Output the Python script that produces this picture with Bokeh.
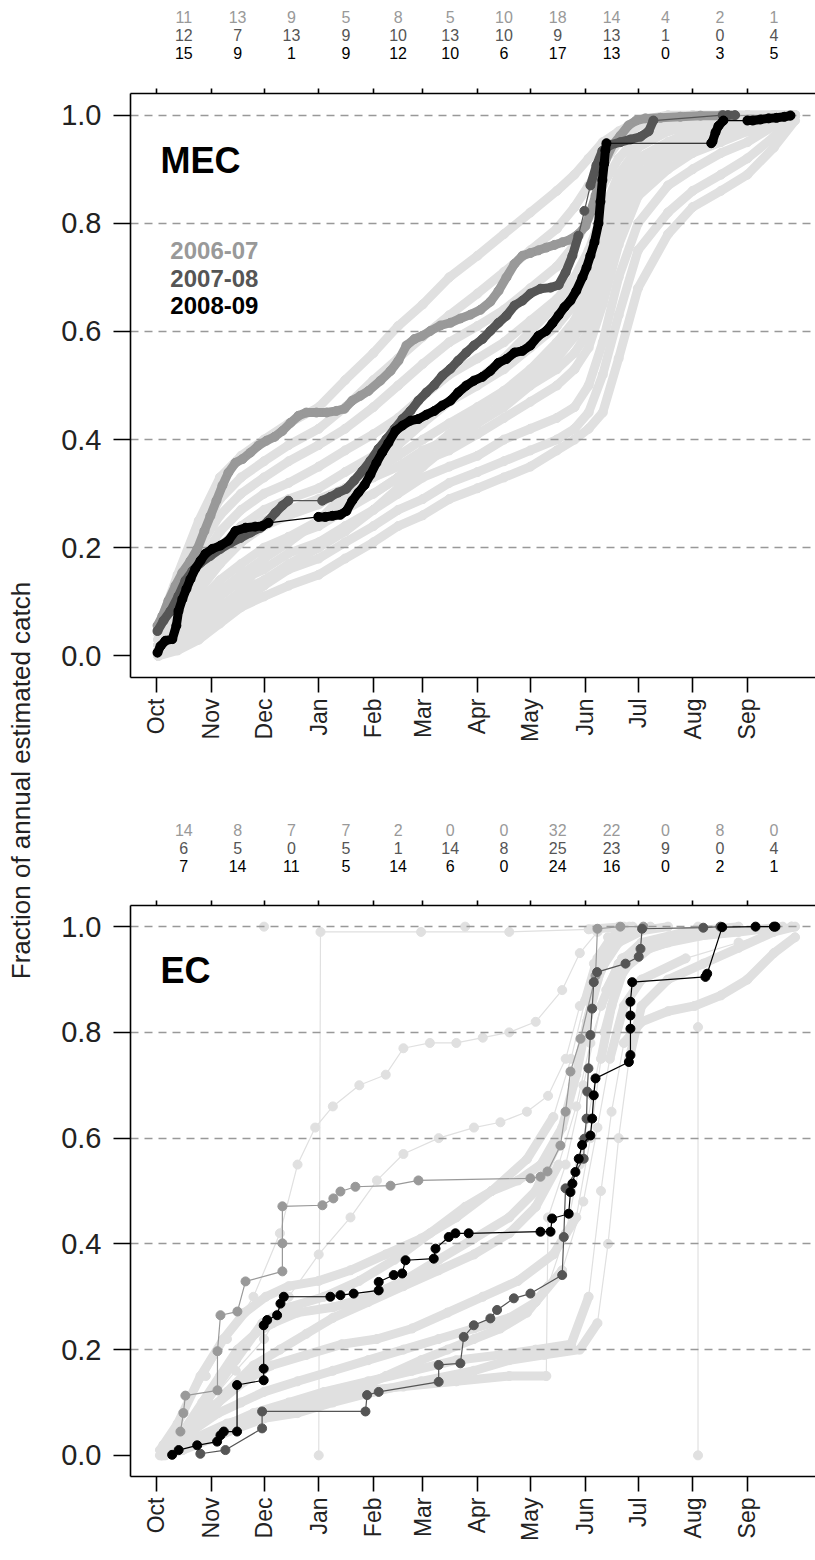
import math
from bokeh.plotting import figure
from bokeh.models import (ColumnDataSource, Range1d, FixedTicker, LinearAxis,
                          Label, PrintfTickFormatter)
from bokeh.core.properties import value
from bokeh.layouts import row, column
from bokeh.embed import file_html
from bokeh.resources import INLINE

FONT = "Liberation Sans"

# ---------------- categories / ticks ----------------
months = ["Oct", "Nov", "Dec", "Jan", "Feb", "Mar", "Apr", "May", "Jun", "Jul", "Aug", "Sep"]
month_start = [0, 31, 61, 92, 123, 151, 182, 212, 243, 273, 304, 335]   # day of season
month_len = [31, 30, 31, 31, 28, 31, 30, 31, 30, 31, 31, 30]
y_ticks = [0.0, 0.2, 0.4, 0.6, 0.8, 1.0]
seasons = ["2006-07", "2007-08", "2008-09"]
season_colors = ["#999999", "#555555", "#000000"]
BG_COLOR = "#e0e0e0"

# ---------------- monthly counts (top rows) ----------------
mec_n_0607 = [11, 13, 9, 5, 8, 5, 10, 18, 14, 4, 2, 1]
mec_n_0708 = [12, 7, 13, 9, 10, 13, 10, 9, 13, 1, 0, 4]
mec_n_0809 = [15, 9, 1, 9, 12, 10, 6, 17, 13, 0, 3, 5]
ec_n_0607 = [14, 8, 7, 7, 2, 0, 0, 32, 22, 0, 8, 0]
ec_n_0708 = [6, 5, 0, 5, 1, 14, 8, 25, 23, 9, 0, 4]
ec_n_0809 = [7, 14, 11, 5, 14, 6, 0, 24, 16, 0, 2, 1]

# ---------------- MEC highlighted seasons (day, cumulative fraction) ----------------
mec_0607_day = [0.6, 3.4, 6.8, 10.8, 14.7, 19.3, 23.2, 27.2, 30.6, 34, 37.4, 40.8, 44.8, 48.8, 53.3,
                57.8, 62.4, 66.9, 71.4, 76, 80.5, 85, 90.7, 96.4, 102, 106.6, 111, 115.6, 120.2, 127,
                132.7, 137.2, 141.7, 146.3, 150.8, 155.3, 161, 166.7, 172.3, 178, 183.7, 189.3, 193.9,
                198.4, 203, 207.5, 212, 216.6, 221, 225.6, 230.2, 234.7, 239.2, 243.2, 246, 248.9,
                251.7, 254.5, 258.5, 263, 267.6, 272, 277.2, 285.7, 297, 308.4, 319.7, 359.4]
mec_0607_frac = [0.056, 0.074, 0.102, 0.13, 0.154, 0.176, 0.198, 0.231, 0.259, 0.287, 0.315, 0.339,
                 0.357, 0.364, 0.376, 0.389, 0.398, 0.405, 0.416, 0.431, 0.444, 0.45, 0.45, 0.45,
                 0.453, 0.457, 0.472, 0.481, 0.49, 0.509, 0.527, 0.546, 0.574, 0.586, 0.592, 0.601,
                 0.611, 0.616, 0.624, 0.631, 0.64, 0.655, 0.675, 0.7, 0.725, 0.74, 0.745, 0.75,
                 0.755, 0.76, 0.765, 0.77, 0.78, 0.795, 0.82, 0.851, 0.888, 0.916, 0.944, 0.962,
                 0.981, 0.99, 0.994, 0.995, 0.997, 0.999, 0.999, 1.0]

mec_0708_day = [0.6, 4, 8, 12.5, 16.4, 20.4, 25, 30.6, 36.3, 42, 47.6, 53.3, 59, 63.5, 67.5, 71.4,
                74.8, 94, 98.6, 103, 107.7, 112, 116.8, 121.3, 125.9, 130.4, 135, 139.5, 144, 148.5,
                153, 157.6, 162, 166.7, 171, 175.7, 180, 184.8, 189.3, 193.9, 198.4, 203, 207.5, 212,
                217.7, 223.4, 228, 231.9, 235.8, 239.2, 242.6, 246, 249.4, 252.8, 257.4, 263, 268.7,
                274.4, 279, 281.7, 321, 324, 328]
mec_0708_frac = [0.046, 0.065, 0.083, 0.111, 0.139, 0.157, 0.172, 0.185, 0.198, 0.209, 0.218, 0.228,
                 0.237, 0.25, 0.265, 0.278, 0.287, 0.287, 0.294, 0.302, 0.309, 0.324, 0.342, 0.361,
                 0.383, 0.401, 0.42, 0.438, 0.453, 0.472, 0.487, 0.501, 0.518, 0.531, 0.546, 0.561,
                 0.574, 0.586, 0.601, 0.616, 0.629, 0.648, 0.657, 0.67, 0.679, 0.681, 0.686, 0.709,
                 0.74, 0.777, 0.823, 0.87, 0.907, 0.934, 0.945, 0.95, 0.955, 0.96, 0.97, 0.99,
                 1.0, 1.0, 1.0]

mec_0809_day = [0.6, 2.3, 5.1, 9, 11.3, 12.5, 14.7, 17, 19.3, 22, 25, 27.8, 31.7, 36.3, 40.8, 44.8,
                50.5, 56, 60, 63.5, 91.8, 95.8, 99.8, 104.3, 107.7, 111, 114.5, 118, 121.3, 124.7,
                128, 131.5, 135.5, 139.5, 144, 148.5, 153, 157.6, 162, 166.7, 171, 175.7, 180, 184.8,
                189.3, 193.9, 198.4, 203, 207.5, 212, 216.6, 221, 224.5, 228, 231.3, 234.7, 238,
                241.5, 243.8, 246, 248.3, 250.6, 251.7, 252.8, 253.8, 254.5, 255.1, 314.5, 315.2,
                316.9, 318.6, 321.4, 335, 338, 342.4, 347, 351.5, 356, 359.4]
mec_0809_frac = [0.006, 0.018, 0.028, 0.031, 0.056, 0.083, 0.105, 0.124, 0.142, 0.161, 0.176, 0.189,
                 0.198, 0.204, 0.213, 0.231, 0.237, 0.239, 0.24, 0.246, 0.257, 0.257, 0.259, 0.261,
                 0.268, 0.287, 0.302, 0.316, 0.335, 0.357, 0.376, 0.394, 0.416, 0.426, 0.435, 0.438,
                 0.446, 0.453, 0.463, 0.472, 0.487, 0.5, 0.509, 0.516, 0.527, 0.542, 0.549, 0.561,
                 0.564, 0.574, 0.592, 0.601, 0.615, 0.63, 0.645, 0.657, 0.675, 0.7, 0.718, 0.74,
                 0.765, 0.8, 0.84, 0.88, 0.91, 0.935, 0.948, 0.948, 0.951, 0.968, 0.98, 0.99, 0.99,
                 0.99, 0.992, 0.994, 0.995, 0.997, 0.999]

# ---------------- MEC other seasons (light grey) ----------------
mec_bg_day = [1, 12, 24, 36, 48, 61, 75, 92, 107, 123, 137, 151, 166, 182, 197, 212, 227, 237, 245,
              253, 262, 273, 290, 304, 320, 335, 350, 362]
mec_bg_frac = [
    [0.0, 0.01, 0.03, 0.06, 0.09, 0.11, 0.13, 0.15, 0.18, 0.21, 0.24, 0.26, 0.29, 0.31, 0.33, 0.35, 0.38, 0.40, 0.42, 0.45, 0.55, 0.68, 0.78, 0.83, 0.86, 0.89, 0.94, 0.99],
    [0.0, 0.02, 0.05, 0.08, 0.10, 0.13, 0.16, 0.18, 0.21, 0.24, 0.27, 0.29, 0.32, 0.34, 0.36, 0.38, 0.40, 0.42, 0.45, 0.52, 0.63, 0.75, 0.82, 0.86, 0.89, 0.92, 0.96, 1.0],
    [0.01, 0.03, 0.07, 0.11, 0.14, 0.16, 0.19, 0.21, 0.24, 0.27, 0.30, 0.33, 0.35, 0.37, 0.40, 0.42, 0.44, 0.46, 0.50, 0.58, 0.70, 0.80, 0.87, 0.90, 0.93, 0.95, 0.98, 1.0],
    [0.01, 0.05, 0.10, 0.14, 0.17, 0.20, 0.22, 0.24, 0.27, 0.30, 0.33, 0.36, 0.38, 0.41, 0.44, 0.47, 0.50, 0.53, 0.57, 0.65, 0.76, 0.85, 0.90, 0.93, 0.95, 0.97, 0.99, 1.0],
    [0.02, 0.06, 0.12, 0.17, 0.21, 0.24, 0.26, 0.28, 0.31, 0.34, 0.37, 0.40, 0.43, 0.46, 0.49, 0.52, 0.56, 0.60, 0.65, 0.72, 0.82, 0.89, 0.93, 0.95, 0.97, 0.98, 0.99, 1.0],
    [0.02, 0.08, 0.15, 0.20, 0.24, 0.27, 0.29, 0.31, 0.34, 0.37, 0.41, 0.44, 0.47, 0.50, 0.53, 0.57, 0.61, 0.65, 0.70, 0.78, 0.86, 0.92, 0.95, 0.97, 0.98, 0.99, 1.0, 1.0],
    [0.03, 0.10, 0.17, 0.23, 0.27, 0.30, 0.32, 0.35, 0.38, 0.41, 0.44, 0.48, 0.52, 0.55, 0.58, 0.62, 0.66, 0.70, 0.75, 0.82, 0.89, 0.94, 0.97, 0.98, 0.99, 1.0, 1.0, 1.0],
    [0.03, 0.11, 0.20, 0.26, 0.30, 0.33, 0.36, 0.39, 0.42, 0.46, 0.50, 0.54, 0.58, 0.61, 0.64, 0.68, 0.72, 0.76, 0.81, 0.87, 0.92, 0.96, 0.98, 0.99, 1.0, 1.0, 1.0, 1.0],
    [0.04, 0.13, 0.22, 0.29, 0.33, 0.36, 0.39, 0.42, 0.46, 0.51, 0.55, 0.59, 0.63, 0.67, 0.71, 0.75, 0.79, 0.83, 0.87, 0.91, 0.95, 0.98, 0.99, 1.0, 1.0, 1.0, 1.0, 1.0],
    [0.05, 0.15, 0.25, 0.33, 0.37, 0.40, 0.43, 0.46, 0.51, 0.56, 0.61, 0.65, 0.70, 0.74, 0.78, 0.82, 0.86, 0.89, 0.92, 0.95, 0.97, 0.99, 1.0, 1.0, 1.0, 1.0, 1.0, 1.0],
    [0.0, 0.02, 0.04, 0.07, 0.12, 0.18, 0.22, 0.25, 0.28, 0.30, 0.33, 0.37, 0.41, 0.45, 0.49, 0.53, 0.58, 0.62, 0.68, 0.76, 0.85, 0.91, 0.94, 0.96, 0.97, 0.98, 0.99, 1.0],
    [0.01, 0.04, 0.08, 0.12, 0.15, 0.18, 0.21, 0.25, 0.30, 0.35, 0.39, 0.43, 0.47, 0.51, 0.55, 0.60, 0.65, 0.69, 0.74, 0.80, 0.87, 0.92, 0.95, 0.97, 0.98, 0.99, 1.0, 1.0],
    [0.02, 0.07, 0.13, 0.18, 0.22, 0.25, 0.27, 0.29, 0.31, 0.33, 0.35, 0.38, 0.40, 0.43, 0.46, 0.50, 0.53, 0.56, 0.60, 0.68, 0.79, 0.87, 0.92, 0.94, 0.96, 0.98, 0.99, 1.0],
    [0.0, 0.03, 0.06, 0.09, 0.12, 0.14, 0.17, 0.20, 0.23, 0.27, 0.31, 0.35, 0.39, 0.43, 0.47, 0.51, 0.55, 0.59, 0.63, 0.71, 0.80, 0.88, 0.92, 0.94, 0.96, 0.97, 0.99, 1.0],
]

# ---------------- EC highlighted seasons ----------------
ec_0607_day = [13.6, 15.3, 16.4, 34.6, 34.6, 36.3, 45.9, 50.5, 71.4, 71.4, 71.4, 94.1, 100.3, 104.3,
               112.8, 132.7, 148.5, 212, 217.7, 221.7, 229, 231.9, 234.7, 240.4, 248.9, 250, 263, 276]
ec_0607_frac = [0.045, 0.08, 0.113, 0.123, 0.197, 0.265, 0.272, 0.329, 0.348, 0.401, 0.471, 0.473,
                0.486, 0.499, 0.508, 0.51, 0.52, 0.524, 0.527, 0.537, 0.586, 0.65, 0.726, 0.788,
                0.907, 0.996, 1.0, 1.0]

ec_0708_day = [24.9, 39.1, 59.9, 59.9, 118.5, 119.4, 126, 160, 160, 172.3, 174.2, 179.9, 189.3, 193.1,
               202.6, 212, 230, 230.9, 231.9, 242.2, 242.6, 243.8, 244.2, 244.9, 246, 247, 247.9,
               249.8, 265.9, 273.4, 274.4, 275.3, 310, 319.7]
ec_0708_frac = [0.003, 0.01, 0.051, 0.083, 0.083, 0.114, 0.12, 0.139, 0.171, 0.174, 0.224, 0.246,
                0.259, 0.275, 0.297, 0.306, 0.341, 0.413, 0.505, 0.561, 0.599, 0.637, 0.688, 0.732,
                0.795, 0.845, 0.895, 0.914, 0.93, 0.943, 0.958, 0.996, 0.998, 1.0]

ec_0809_day = [8.9, 12.6, 23.1, 34.4, 36.3, 38.2, 45.7, 45.7, 60.8, 60.8, 60.8, 62.8, 68.4, 70.3, 72.2,
               98.6, 104.3, 111.8, 126, 126, 134.5, 139.3, 141.2, 157.2, 158.2, 165.7, 169.5, 177,
               217.7, 223.4, 224.3, 233.7, 234.7, 235.8, 237.5, 239.4, 241.3, 246, 247, 247.9, 248.9,
               267.8, 268.7, 268.7, 268.7, 268.7, 269.7, 311.2, 312.2, 320.7, 339.6, 350, 350.9]
ec_0809_frac = [0.001, 0.01, 0.019, 0.026, 0.038, 0.045, 0.045, 0.133, 0.142, 0.164, 0.246, 0.256,
                0.265, 0.287, 0.3, 0.3, 0.303, 0.306, 0.312, 0.328, 0.341, 0.344, 0.369, 0.372, 0.391,
                0.413, 0.42, 0.42, 0.423, 0.423, 0.448, 0.457, 0.498, 0.514, 0.536, 0.561, 0.587,
                0.605, 0.637, 0.681, 0.713, 0.744, 0.757, 0.807, 0.832, 0.858, 0.895, 0.905, 0.911,
                0.999, 1.0, 1.0, 1.0]

# ---------------- EC other seasons (light grey) ----------------
ec_bg_day = [
    [3, 15, 30, 45, 61, 80, 100, 123, 150, 180, 200, 220, 240, 250, 256, 262, 268, 275, 290, 310, 330, 350, 362],
    [5, 20, 35, 50, 65, 85, 105, 125, 145, 165, 185, 205, 225, 238, 246, 252, 258, 265, 280, 300, 330, 355],
    [2, 12, 25, 38, 50, 62, 75, 92, 110, 130, 150, 170, 190, 210, 225, 235, 243, 250, 258, 270],
    [4, 15, 28, 40, 55, 70, 80, 90, 100, 115, 130, 140, 155, 170, 185, 200, 215, 230, 240, 250, 262],
    [3, 14, 30, 45, 61, 75, 92, 110, 125, 140, 160, 180, 195, 210, 222, 232, 240, 248, 256, 268],
    [5, 20, 35, 50, 70, 92, 110, 130, 150, 165, 180, 195, 210, 222, 232, 240, 247, 254, 262, 272, 290, 320, 360],
    [3, 15, 28, 40, 55, 70, 85, 100, 120, 140, 160, 180, 200, 215, 228, 238, 246, 255, 264, 280, 305, 340],
    [2, 10, 22, 35, 48, 61, 80, 100, 120, 140, 160, 180, 200, 215, 230, 242, 250, 257, 265, 275, 300, 330, 360],
    [5, 20, 40, 61, 85, 110, 140, 170, 200, 221, 222, 232, 242, 252, 262, 275, 300, 330],
    [92, 93, 150, 200, 245, 265],
    [307, 307, 307],
    [61],
    [175],
    [8, 20, 32, 45, 60, 75, 95, 115, 135, 155, 175, 190, 205, 218, 230, 238, 244, 250, 258, 270, 290],
    [4, 18, 35, 55, 75, 95, 120, 145, 170, 195, 215, 235, 245, 252, 258, 265, 275, 290, 305, 320, 335, 350, 362],
    [6, 16, 26, 36, 46, 56, 66, 80, 100, 120, 140, 160, 180, 200, 215, 226, 236, 244, 252, 262, 280],
]
ec_bg_frac = [
    [0.0, 0.01, 0.03, 0.05, 0.07, 0.08, 0.1, 0.12, 0.14, 0.16, 0.18, 0.19, 0.2, 0.25, 0.4, 0.6, 0.75, 0.85, 0.9, 0.93, 0.96, 0.99, 1.0],
    [0.01, 0.05, 0.1, 0.14, 0.17, 0.19, 0.21, 0.22, 0.24, 0.27, 0.3, 0.33, 0.38, 0.45, 0.6, 0.75, 0.85, 0.92, 0.96, 0.98, 0.99, 1.0],
    [0.01, 0.06, 0.15, 0.22, 0.27, 0.3, 0.32, 0.33, 0.35, 0.38, 0.41, 0.45, 0.5, 0.56, 0.64, 0.75, 0.86, 0.94, 0.98, 1.0],
    [0.02, 0.08, 0.15, 0.22, 0.3, 0.42, 0.55, 0.62, 0.66, 0.7, 0.72, 0.77, 0.78, 0.78, 0.79, 0.8, 0.82, 0.88, 0.95, 0.99, 1.0],
    [0.0, 0.04, 0.1, 0.16, 0.22, 0.3, 0.38, 0.45, 0.52, 0.57, 0.6, 0.62, 0.63, 0.65, 0.68, 0.75, 0.85, 0.93, 0.98, 1.0],
    [0.0, 0.02, 0.04, 0.06, 0.08, 0.1, 0.12, 0.15, 0.18, 0.2, 0.22, 0.24, 0.27, 0.32, 0.42, 0.55, 0.68, 0.8, 0.9, 0.95, 0.97, 0.99, 1.0],
    [0.01, 0.03, 0.07, 0.12, 0.17, 0.2, 0.23, 0.26, 0.29, 0.32, 0.35, 0.38, 0.42, 0.47, 0.55, 0.66, 0.78, 0.88, 0.94, 0.97, 0.99, 1.0],
    [0.0, 0.02, 0.05, 0.08, 0.1, 0.12, 0.14, 0.16, 0.18, 0.2, 0.22, 0.24, 0.26, 0.29, 0.35, 0.48, 0.62, 0.75, 0.85, 0.9, 0.94, 0.97, 1.0],
    [0.01, 0.03, 0.06, 0.08, 0.1, 0.12, 0.13, 0.14, 0.15, 0.15, 0.45, 0.55, 0.7, 0.85, 0.93, 0.97, 0.99, 1.0],
    [0.0, 0.99, 0.99, 0.99, 0.995, 1.0],
    [0.0, 0.81, 1.0],
    [1.0],
    [1.0],
    [0.02, 0.06, 0.12, 0.18, 0.25, 0.28, 0.3, 0.33, 0.37, 0.42, 0.47, 0.5, 0.52, 0.55, 0.62, 0.72, 0.82, 0.9, 0.96, 0.99, 1.0],
    [0.0, 0.02, 0.05, 0.08, 0.1, 0.12, 0.14, 0.16, 0.18, 0.19, 0.2, 0.21, 0.3, 0.5, 0.65, 0.78, 0.82, 0.84, 0.85, 0.87, 0.9, 0.95, 0.98],
    [0.01, 0.05, 0.1, 0.15, 0.2, 0.23, 0.25, 0.27, 0.28, 0.3, 0.33, 0.37, 0.41, 0.45, 0.5, 0.58, 0.7, 0.82, 0.92, 0.97, 1.0],
]
# sparse seasons drawn as dot chains (style flag per EC background season)
ec_bg_sparse = [False, False, False, True, True, False, False, False, False, False, False,
                False, False, False, False, False]

# ---------------- layout constants ----------------
X_RANGE = (-14.7, 373.6)
Y_RANGE = (-0.04, 1.04)
FIG_W = 775
LEFT = 90
FRAME_W = FIG_W - LEFT
SX = FRAME_W / (X_RANGE[1] - X_RANGE[0])


def thick_runs(xs, ys, sy, thr):
    """Group consecutive points that lie close together on screen (dense runs)."""
    runs_x, runs_y = [], []
    cx, cy = [xs[0]], [ys[0]]
    for i in range(1, len(xs)):
        d = math.hypot((xs[i] - xs[i - 1]) * SX, (ys[i] - ys[i - 1]) * sy)
        if d <= thr:
            cx.append(xs[i]); cy.append(ys[i])
        else:
            if len(cx) > 1:
                runs_x.append(cx); runs_y.append(cy)
            cx, cy = [xs[i]], [ys[i]]
    if len(cx) > 1:
        runs_x.append(cx); runs_y.append(cy)
    return runs_x, runs_y


def draw_series(p, xs, ys, color, sy, thr, level, thick=9):
    src = ColumnDataSource(dict(x=xs, y=ys))
    if len(xs) > 1:
        p.line("x", "y", source=src, line_color=color, line_width=1.2, level=level)
        if thr > 0:
            rx, ry = thick_runs(xs, ys, sy, thr)
            if rx:
                p.multi_line(rx, ry, line_color=color, line_width=thick,
                             line_cap="round", line_join="round", level=level)
    p.scatter("x", "y", source=src, marker="circle", size=9,
              fill_color=color, line_color=color, level=level)


def make_count_strip(height, counts, rows_px, x_range):
    s = figure(width=FIG_W, height=height, x_range=x_range, y_range=Range1d(height, 0),
               toolbar_location=None, output_backend="svg", x_axis_location=None,
               y_axis_location=None, min_border_left=LEFT, min_border_right=0,
               min_border_top=0, min_border_bottom=0)
    s.outline_line_color = None
    s.grid.visible = False
    mid = [st + ln / 2 for st, ln in zip(month_start, month_len)]
    for vals, c, py in zip(counts, season_colors, rows_px):
        src = ColumnDataSource(dict(x=mid, y=[py] * len(mid), t=[str(v) for v in vals]))
        s.text(x="x", y="y", text="t", source=src, text_align="center", text_baseline="middle",
               text_font=value(FONT), text_font_size=value("16px"), text_color=c)
    return s


def make_panel(height, top, frame_h, name, name_y, bg_days, bg_fracs, bg_thr, hl, hl_thr,
               legend, legend_top_px):
    bottom = height - top - frame_h
    sy = frame_h / (Y_RANGE[1] - Y_RANGE[0])
    p = figure(width=FIG_W, height=height, x_range=Range1d(*X_RANGE), y_range=Range1d(*Y_RANGE),
               toolbar_location=None, output_backend="svg",
               min_border_left=LEFT, min_border_right=0, min_border_top=top,
               min_border_bottom=bottom)
    p.outline_line_color = None

    # grid: dashed grey at 0.2 .. 1.0
    p.xgrid.visible = False
    p.ygrid.ticker = FixedTicker(ticks=y_ticks[1:])
    p.ygrid.grid_line_color = "#999999"
    p.ygrid.grid_line_dash = "8 6"
    p.ygrid.grid_line_width = 1.6
    p.ygrid.level = "underlay"

    # y axis
    ya = p.yaxis[0]
    ya.ticker = FixedTicker(ticks=y_ticks)
    ya.formatter = PrintfTickFormatter(format="%.1f")
    ya.major_tick_out = 17
    ya.major_tick_in = 0
    ya.minor_tick_out = 0
    ya.minor_tick_in = 0
    ya.major_label_standoff = 12
    ya.major_label_text_font = FONT
    ya.major_label_text_font_size = "29px"
    ya.major_label_text_color = "#222222"
    ya.axis_line_width = 1.6
    ya.major_tick_line_width = 1.6

    # bottom axis: month names
    xa = p.xaxis[0]
    xa.ticker = FixedTicker(ticks=month_start)
    xa.major_label_overrides = {m: n for m, n in zip(month_start, months)}
    xa.major_label_orientation = math.pi / 2
    xa.major_tick_out = 15
    xa.major_tick_in = 0
    xa.minor_tick_out = 0
    xa.minor_tick_in = 0
    xa.major_label_standoff = 6
    xa.major_label_text_font = FONT
    xa.major_label_text_font_size = "23px"
    xa.major_label_text_color = "#222222"
    xa.axis_line_width = 1.6
    xa.major_tick_line_width = 1.6

    # top axis: short ticks only
    ta = LinearAxis(ticker=FixedTicker(ticks=month_start))
    ta.major_label_overrides = {m: "" for m in month_start}
    ta.major_label_text_font_size = "1px"
    ta.major_tick_out = 5
    ta.major_tick_in = 0
    ta.minor_tick_out = 0
    ta.minor_tick_in = 0
    ta.major_label_standoff = 0
    ta.axis_line_width = 1.6
    ta.major_tick_line_width = 1.6
    p.add_layout(ta, "above")

    for d, f, t in zip(bg_days, bg_fracs, bg_thr):
        draw_series(p, d, f, BG_COLOR, sy, t, "image")
    for (d, f), c in zip(hl, season_colors):
        draw_series(p, d, f, c, sy, hl_thr, "glyph")

    p.add_layout(Label(x=2.3, y=name_y, text=name, text_font=FONT, text_font_style="bold",
                       text_font_size="36px", text_baseline="alphabetic", text_color="black"))

    if legend:
        for i, (s, c) in enumerate(zip(seasons, season_colors)):
            py = legend_top_px + 27.5 * i
            yv = Y_RANGE[1] - (py - top) / sy
            p.add_layout(Label(x=7.9, y=yv, text=s, text_font=FONT, text_font_style="bold",
                               text_font_size="24px", text_baseline="alphabetic",
                               text_color=c))
    return p


# Panel 1 (MEC): counts strip 70 px, plot 710 px (frame top at 93 px on the page)
f1 = make_panel(710, 23, 584, "MEC", 0.916,
                [mec_bg_day] * len(mec_bg_frac), mec_bg_frac, [1e9] * len(mec_bg_frac),
                [(mec_0607_day, mec_0607_frac), (mec_0708_day, mec_0708_frac),
                 (mec_0809_day, mec_0809_frac)],
                hl_thr=22, legend=True, legend_top_px=180)
s1 = make_count_strip(70, [mec_n_0607, mec_n_0708, mec_n_0809], [16, 34, 52], f1.x_range)

# Panel 2 (EC): counts strip 100 px, plot 680 px (frame top at 905 px on the page)
f2 = make_panel(680, 25, 571, "EC", 0.917,
                ec_bg_day, ec_bg_frac, [0 if sp else 55 for sp in ec_bg_sparse],
                [(ec_0607_day, ec_0607_frac), (ec_0708_day, ec_0708_frac),
                 (ec_0809_day, ec_0809_frac)],
                hl_thr=0, legend=False, legend_top_px=0)
s2 = make_count_strip(100, [ec_n_0607, ec_n_0708, ec_n_0809], [49, 67, 85], f2.x_range)

# shared y-axis title in a narrow strip on the left
lf = figure(width=40, height=1560, x_range=Range1d(0, 40), y_range=Range1d(0, 1560),
            toolbar_location=None, output_backend="svg", x_axis_location=None,
            y_axis_location=None, min_border=0)
lf.grid.visible = False
lf.outline_line_color = None
lf.add_layout(Label(x=20, y=780, text="Fraction of annual estimated catch", angle=math.pi / 2,
                    text_align="center", text_baseline="middle", text_font=FONT,
                    text_font_size="26px", text_color="#222222"))

layout = row(lf, column(s1, f1, s2, f2))
open("out.html", "w").write(file_html(layout, INLINE))
